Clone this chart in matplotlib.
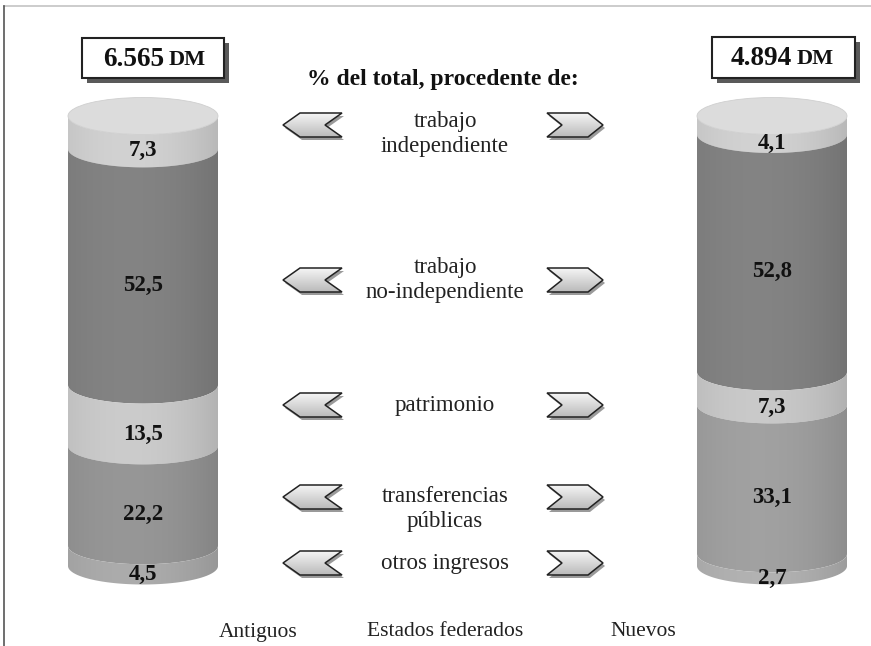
import numpy as np
import matplotlib
matplotlib.use('Agg')
import matplotlib.pyplot as plt
from matplotlib.patches import Polygon, Rectangle, Ellipse

plt.rcParams['font.family'] = ['Liberation Serif', 'DejaVu Serif']

# datos
categorias = ['trabajo\nindependiente', 'trabajo\nno-independiente', 'patrimonio',
              'transferencias\npúblicas', 'otros ingresos']
antiguos = [7.3, 52.5, 13.5, 22.2, 4.5]
nuevos = [4.1, 52.8, 7.3, 33.1, 2.7]
totales = ['6.565', '4.894']
grupos = ['Antiguos', 'Estados federados', 'Nuevos']
titulo = '% del total, procedente de:'

col_ant = ['#c6c6c6', '#7c7c7c', '#c0c0c0', '#8e8e8e', '#a2a2a2']
col_nue = ['#c6c6c6', '#7c7c7c', '#bebebe', '#989898', '#a8a8a8']

fig = plt.figure(figsize=(8.71, 6.46), dpi=100)
ax = fig.add_axes([0, 0, 1, 1])
ax.set_xlim(0, 871)
ax.set_ylim(646, 0)
ax.axis('off')

# marco
ax.plot([4, 871], [6, 6], color='#c4c4c4', lw=1.2)
ax.plot([4, 4], [6, 646], color='#555555', lw=1.2)

RX, RY = 75, 18.5
Y0, ESC = 116, 4.5


def sombreado(color, n=200):
    rgb = np.array(matplotlib.colors.to_rgb(color))
    u = np.linspace(-1, 1, n)
    f = 0.93 + 0.13 * (1 - ((u + 0.2) / 1.2) ** 2)
    img = np.clip(rgb[None, :] * f[:, None], 0, 1)
    return img[None, :, :]


def cilindro(cx, valores, colores):
    lim = Y0 + ESC * np.concatenate([[0], np.cumsum(valores)])
    t = np.linspace(0, np.pi, 80)
    for i, v in enumerate(valores):
        ya, yb = lim[i], lim[i + 1]
        xs = np.concatenate([cx + RX * np.cos(t[::-1]), cx + RX * np.cos(t)])
        ys = np.concatenate([ya + RY * np.sin(t[::-1]), yb + RY * np.sin(t)])
        poly = Polygon(np.column_stack([xs, ys]), closed=True, fc='none', ec='none')
        ax.add_patch(poly)
        im = ax.imshow(sombreado(colores[i]), extent=(cx - RX, cx + RX, yb + RY + 1, ya - 1),
                       aspect='auto', zorder=2)
        im.set_clip_path(poly)
        etiqueta = f'{v:.1f}'.replace('.', ',')
        ax.text(cx, (ya + yb) / 2 + RY, etiqueta, ha='center', va='center',
                fontsize=16.5, fontweight='bold', color='#111111', zorder=4)
    tapa = Ellipse((cx, Y0), 2 * RX, 2 * RY, fc='#dcdcdc', ec='#cfcfcf', lw=0.6, zorder=3)
    ax.add_patch(tapa)


cilindro(143, antiguos, col_ant)
cilindro(772, nuevos, col_nue)

# cajas con totales
for (x0, y0, x1, y1), tot, xs in [((82, 38, 224, 78), totales[0], 164),
                                  ((712, 37, 855, 78), totales[1], 792)]:
    ax.add_patch(Rectangle((x0 + 5, y0 + 5), x1 - x0, y1 - y0, fc='#5a5a5a', ec='none', zorder=5))
    ax.add_patch(Rectangle((x0, y0), x1 - x0, y1 - y0, fc='white', ec='#222222', lw=1.5, zorder=6))
    ax.text(xs, (y0 + y1) / 2 + 1, tot, ha='right', va='center', fontsize=19.5,
            fontweight='bold', color='#111111', zorder=7)
    ax.text(xs + 5, (y0 + y1) / 2 + 2, 'DM', ha='left', va='center', fontsize=16,
            fontweight='bold', color='#111111', zorder=7)

ax.text(443, 79, titulo, ha='center', va='center', fontsize=17, fontweight='bold', color='#111111')

# flechas y categorias
y_flecha = [125, 280, 405, 497, 563]
y_texto = [134, 280, 405, 509, 563]
izq = [(0, 0), (17, -12), (59, -12), (42, 0), (59, 12), (17, 12)]
der = [(0, -12), (41, -12), (56, 0), (41, 12), (0, 12), (15, 0)]
grad = np.linspace(0.97, 0.72, 50)[:, None] * np.ones((1, 50))
grad = np.dstack([grad] * 3)

for cat, yf, yt in zip(categorias, y_flecha, y_texto):
    for x0, forma in [(283, izq), (547, der)]:
        pts = np.array([(x0 + dx, yf + dy) for dx, dy in forma])
        ax.add_patch(Polygon(pts + [2, 3], closed=True, fc='#9a9a9a', ec='none', zorder=2))
        p = Polygon(pts, closed=True, fc='none', ec='#222222', lw=1.1, zorder=4)
        ax.add_patch(p)
        im = ax.imshow(grad, extent=(x0, x0 + 60, yf + 13, yf - 13), aspect='auto', zorder=3)
        im.set_clip_path(p)
    ax.text(445, yt, cat, ha='center', va='center', fontsize=16.5, color='#222222',
            linespacing=1.25)

for g, x in zip(grupos, [258, 445, 643]):
    ax.text(x, 632, g, ha='center', va='center', fontsize=15.5, color='#222222')

ax.set_xlim(0, 871)
ax.set_ylim(646, 0)
fig.savefig('out.png', dpi=100)
